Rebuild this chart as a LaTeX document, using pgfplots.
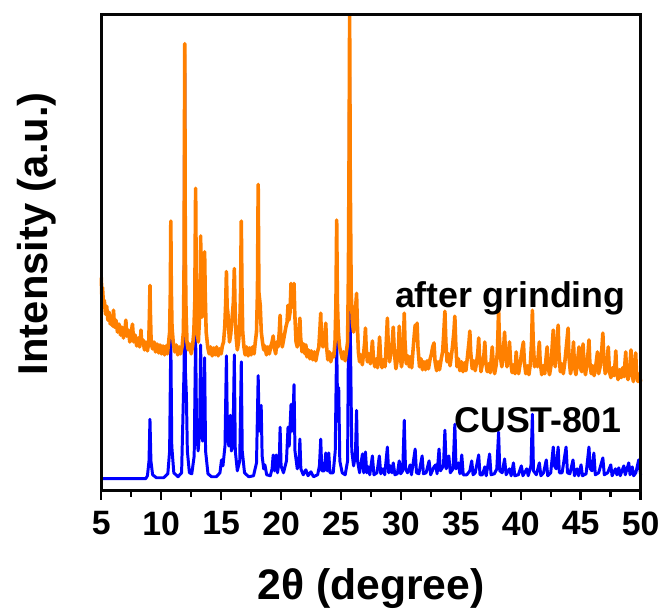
\documentclass[border=0pt]{standalone}
\usepackage{fontspec}
\setmainfont{Liberation Sans}
\usepackage{pgfplots}
\pgfplotsset{compat=1.18}
\definecolor{cblue}{RGB}{0,0,255}
\definecolor{corange}{RGB}{255,128,0}
\definecolor{framec}{RGB}{5,5,5}
\begin{document}
\begin{tikzpicture}
\begin{axis}[
  scale only axis, width=271.5pt, height=239.5pt,
  xmin=5, xmax=50, ymin=0, ymax=480,
  clip=false,
  axis line style={line width=1.5pt},
  xtick={5,10,...,50}, minor x tick num=1,
  xtick pos=bottom, ytick=\empty,
  tick align=outside,
  major tick length=4.5pt, minor tick length=3pt,
  every tick/.style={line width=1.2pt, black},
  /pgf/number format/assume math mode=true,
  xticklabel style={font=\fontsize{17}{17}\selectfont\bfseries, yshift=-2.5pt},
  xlabel={2θ (degree)},
  ylabel={Intensity (a.u.)},
  xlabel style={font=\fontsize{21.5}{21.5}\selectfont\bfseries, inner sep=0pt, at={(axis description cs:0.5,-0.205)}, anchor=center},
  ylabel style={font=\fontsize{21}{21}\selectfont\bfseries, inner sep=0pt, at={(axis description cs:-0.12,0.54)}, anchor=center},
]
\addplot[cblue, line width=1.5pt, line join=round] coordinates {
(5.00,12)(8.70,12)(8.85,15)(8.98,30)(9.06,72)(9.14,30)(9.28,16)(9.6,13)(10.2,13)(10.55,17)(10.70,40)(10.80,154)(10.88,45)(11.05,18)(11.4,14)(11.7,18)(11.90,120)(11.96,440)(12.02,120)(12.10,96)(12.18,40)(12.35,18)(12.55,17)(12.75,35)(12.87,158)(12.95,60)(13.08,40)(13.20,60)(13.29,147)(13.36,70)(13.45,50)(13.55,70)(13.62,134)(13.70,40)(13.9,17)(14.2,14)(14.6,14)(14.9,18)(15.03,31)(15.15,25)(15.32,45)(15.44,136)(15.52,60)(15.64,45)(15.77,76)(15.85,40)(15.98,45)(16.10,137)(16.18,40)(16.35,20)(16.55,30)(16.68,130)(16.76,40)(16.95,18)(17.3,14)(17.7,15)(17.95,28)(18.09,116)(18.18,60)(18.34,86)(18.42,35)(18.55,22)(18.65,26)(18.8,16)(19.1,15)(19.25,22)(19.34,36)(19.45,20)(19.59,36)(19.70,18)(19.85,30)(19.92,64)(20.00,25)(20.2,18)(20.45,30)(20.58,64)(20.68,45)(20.83,87)(20.92,60)(21.00,75)(21.08,107)(21.16,40)(21.35,22)(21.50,30)(21.57,52)(21.65,22)(21.85,16)(22.07,21)(22.25,15)(22.49,19)(22.7,14)(23.05,16)(23.20,25)(23.31,52)(23.40,20)(23.60,20)(23.73,38)(23.85,20)(23.98,38)(24.08,18)(24.35,18)(24.52,40)(24.64,152)(24.73,70)(24.81,104)(24.90,30)(25.1,18)(25.35,16)(25.55,30)(25.65,202)(25.72,417)(25.79,150)(25.90,40)(26.05,25)(26.20,35)(26.30,81)(26.38,30)(26.55,18)(26.79,37)(26.90,18)(27.04,39)(27.15,18)(27.30,24)(27.40,16)(27.62,35)(27.75,16)(28.00,18)(28.20,35)(28.32,17)(28.50,22)(28.65,16)(28.87,44)(28.98,18)(29.12,25)(29.25,18)(29.36,28)(29.5,16)(29.70,17)(29.86,30)(29.98,17)(30.15,20)(30.28,71)(30.38,22)(30.55,18)(30.77,26)(30.88,16)(31.19,42)(31.30,18)(31.50,17)(31.77,35)(31.88,17)(32.10,18)(32.35,30)(32.48,16)(32.76,24)(32.90,26)(33.02,17)(33.18,42)(33.30,20)(33.55,25)(33.67,61)(33.78,22)(34.00,35)(34.12,18)(34.35,22)(34.50,67)(34.60,22)(34.80,28)(34.92,17)(35.08,36)(35.20,16)(35.50,16)(35.75,20)(35.91,30)(36.02,16)(36.20,18)(36.49,36)(36.60,16)(36.80,16)(37.00,24)(37.12,15)(37.40,37)(37.52,16)(37.80,17)(38.00,22)(38.15,59)(38.25,20)(38.45,18)(38.65,32)(38.78,16)(39.06,22)(39.20,15)(39.39,28)(39.50,15)(39.80,16)(40.05,25)(40.18,15)(40.50,22)(40.62,15)(40.85,25)(40.97,77)(41.06,20)(41.30,16)(41.55,28)(41.68,15)(41.90,18)(42.13,31)(42.25,15)(42.50,18)(42.71,44)(42.82,25)(42.95,22)(43.12,44)(43.22,18)(43.45,18)(43.78,44)(43.90,18)(44.10,17)(44.36,31)(44.48,15)(44.70,22)(44.82,15)(45.03,26)(45.15,15)(45.45,17)(45.69,44)(45.80,22)(45.95,20)(46.10,38)(46.22,16)(46.50,18)(46.85,33)(46.97,16)(47.25,18)(47.51,26)(47.62,15)(47.90,22)(48.02,16)(48.18,23)(48.30,15)(48.60,25)(48.72,16)(49.01,28)(49.12,16)(49.30,24)(49.42,15)(49.60,18)(49.84,31)(50.00,16)
};
\addplot[corange, line width=1.8pt, line join=round] coordinates {
(5.00,215)(5.04,198)(5.10,205)(5.18,188)(5.25,192)(5.35,178)(5.45,186)(5.55,172)(5.65,180)(5.75,168)(5.85,176)(5.95,166)(6.02,182)(6.10,165)(6.22,172)(6.35,160)(6.48,168)(6.60,157)(6.72,165)(6.85,154)(6.98,163)(7.05,172)(7.12,156)(7.25,162)(7.38,150)(7.50,160)(7.60,168)(7.70,150)(7.82,157)(7.95,146)(8.08,154)(8.20,145)(8.26,150)(8.31,162)(8.36,149)(8.48,152)(8.60,142)(8.72,150)(8.85,141)(8.96,150)(9.02,180)(9.06,207)(9.10,178)(9.16,149)(9.28,143)(9.40,150)(9.52,140)(9.65,148)(9.78,139)(9.90,147)(10.02,138)(10.15,146)(10.28,137)(10.40,146)(10.52,138)(10.62,150)(10.70,160)(10.76,200)(10.80,272)(10.84,205)(10.90,165)(11.00,150)(11.12,140)(11.25,147)(11.38,137)(11.50,145)(11.62,138)(11.75,146)(11.85,160)(11.91,230)(11.96,451)(12.01,240)(12.07,180)(12.15,150)(12.25,142)(12.38,148)(12.50,138)(12.62,146)(12.72,160)(12.80,190)(12.87,305)(12.93,200)(13.00,160)(13.10,150)(13.18,170)(13.25,200)(13.29,257)(13.33,195)(13.40,175)(13.50,185)(13.58,210)(13.62,241)(13.67,200)(13.75,160)(13.88,145)(14.00,138)(14.12,145)(14.25,136)(14.38,144)(14.50,137)(14.62,145)(14.75,136)(14.88,143)(15.00,138)(15.10,146)(15.20,150)(15.30,165)(15.38,190)(15.44,221)(15.50,185)(15.56,180)(15.62,165)(15.70,150)(15.80,158)(15.92,175)(16.02,190)(16.10,224)(16.16,185)(16.25,155)(16.35,142)(16.45,150)(16.55,165)(16.62,200)(16.68,272)(16.74,200)(16.80,160)(16.90,145)(17.00,137)(17.12,145)(17.25,136)(17.38,144)(17.50,137)(17.62,145)(17.75,138)(17.85,150)(17.95,160)(18.03,200)(18.09,309)(18.15,200)(18.26,187)(18.35,160)(18.45,150)(18.55,142)(18.65,146)(18.78,137)(18.90,145)(19.02,138)(19.15,146)(19.25,150)(19.34,156)(19.42,145)(19.55,138)(19.65,150)(19.75,145)(19.85,160)(19.92,177)(19.98,155)(20.10,145)(20.25,155)(20.40,165)(20.50,170)(20.58,187)(20.65,172)(20.75,180)(20.83,209)(20.90,200)(20.97,185)(21.04,195)(21.08,209)(21.14,180)(21.25,150)(21.35,145)(21.45,152)(21.52,165)(21.57,174)(21.63,155)(21.75,140)(21.88,148)(22.00,138)(22.07,147)(22.15,135)(22.28,142)(22.40,133)(22.52,141)(22.65,132)(22.78,140)(22.90,131)(23.02,139)(23.15,145)(23.25,165)(23.31,179)(23.37,150)(23.50,145)(23.62,155)(23.73,169)(23.80,145)(23.90,132)(24.02,140)(24.15,130)(24.28,138)(24.40,135)(24.50,150)(24.58,190)(24.64,273)(24.70,190)(24.78,160)(24.88,145)(24.98,140)(25.10,133)(25.22,140)(25.35,131)(25.45,140)(25.55,150)(25.62,220)(25.67,330)(25.72,479)(25.77,320)(25.85,200)(25.95,170)(26.05,160)(26.15,175)(26.25,190)(26.30,199)(26.36,170)(26.45,140)(26.55,130)(26.65,137)(26.78,127)(26.90,140)(26.98,150)(27.04,164)(27.10,145)(27.20,130)(27.32,138)(27.45,128)(27.55,140)(27.62,151)(27.70,135)(27.82,125)(27.95,133)(28.05,124)(28.15,140)(28.22,155)(28.30,135)(28.42,124)(28.55,132)(28.68,125)(28.78,150)(28.87,174)(28.95,145)(29.05,130)(29.15,138)(29.25,145)(29.36,165)(29.45,140)(29.58,123)(29.70,132)(29.80,145)(29.86,166)(29.95,135)(30.05,125)(30.15,135)(30.22,155)(30.28,179)(30.34,150)(30.45,128)(30.58,136)(30.70,125)(30.80,135)(30.90,124)(31.00,140)(31.10,155)(31.19,167)(31.26,158)(31.35,169)(31.42,145)(31.55,125)(31.68,133)(31.80,122)(31.92,130)(32.05,122)(32.18,131)(32.30,123)(32.42,132)(32.55,138)(32.65,145)(32.76,149)(32.85,130)(32.98,121)(33.10,130)(33.22,122)(33.35,132)(33.48,140)(33.58,160)(33.67,181)(33.75,150)(33.85,130)(33.98,138)(34.10,126)(34.20,135)(34.30,145)(34.42,160)(34.50,176)(34.57,150)(34.68,125)(34.80,133)(34.92,121)(35.05,130)(35.18,120)(35.30,129)(35.42,121)(35.55,135)(35.68,150)(35.75,161)(35.82,140)(35.95,123)(36.08,131)(36.20,121)(36.32,130)(36.42,140)(36.49,154)(36.56,135)(36.68,120)(36.80,128)(36.92,136)(37.00,150)(37.08,130)(37.20,120)(37.32,128)(37.45,119)(37.55,135)(37.62,145)(37.70,128)(37.82,118)(37.95,127)(38.05,140)(38.10,160)(38.15,184)(38.20,160)(38.30,135)(38.42,125)(38.55,140)(38.65,160)(38.72,140)(38.85,125)(38.95,135)(39.06,150)(39.15,130)(39.28,119)(39.40,127)(39.52,118)(39.62,140)(39.70,125)(39.82,118)(39.95,128)(40.08,140)(40.15,145)(40.22,150)(40.30,130)(40.42,118)(40.55,126)(40.68,117)(40.80,128)(40.90,150)(40.97,182)(41.04,150)(41.15,125)(41.28,132)(41.40,125)(41.48,140)(41.55,150)(41.62,130)(41.75,117)(41.88,126)(42.00,118)(42.12,135)(42.20,145)(42.28,125)(42.40,117)(42.52,126)(42.62,145)(42.71,162)(42.78,135)(42.88,125)(42.98,145)(43.05,155)(43.12,167)(43.18,140)(43.30,120)(43.42,128)(43.55,118)(43.68,130)(43.80,145)(43.88,155)(43.95,164)(44.02,135)(44.15,118)(44.28,127)(44.40,150)(44.48,125)(44.60,117)(44.72,128)(44.80,138)(44.86,145)(44.95,125)(45.08,120)(45.20,148)(45.28,125)(45.40,117)(45.52,128)(45.62,140)(45.69,152)(45.76,130)(45.88,118)(46.00,126)(46.12,116)(46.25,125)(46.40,140)(46.50,118)(46.62,125)(46.75,140)(46.85,159)(46.92,135)(47.05,118)(47.18,126)(47.30,145)(47.40,120)(47.52,114)(47.65,124)(47.78,116)(47.88,130)(47.93,141)(48.00,120)(48.12,112)(48.25,122)(48.38,114)(48.50,124)(48.62,115)(48.70,130)(48.76,140)(48.82,120)(48.95,112)(49.08,122)(49.20,142)(49.28,118)(49.40,110)(49.50,125)(49.59,139)(49.66,118)(49.78,110)(49.90,118)(50.00,110)
};
\node[anchor=base east, font=\fontsize{18}{18}\selectfont\bfseries] at (axis description cs:0.985,0.384) {after grinding};
\node[anchor=base east, font=\fontsize{18}{18}\selectfont\bfseries] at (axis description cs:0.978,0.123) {CUST-801};
\end{axis}
\draw[framec, line width=1.5pt] (current axis.south west) rectangle (current axis.north east);
\path ([xshift=-51pt, yshift=-60pt]current axis.south west) rectangle ([xshift=10.5pt, yshift=7.5pt]current axis.north east);
\end{tikzpicture}
\end{document}
